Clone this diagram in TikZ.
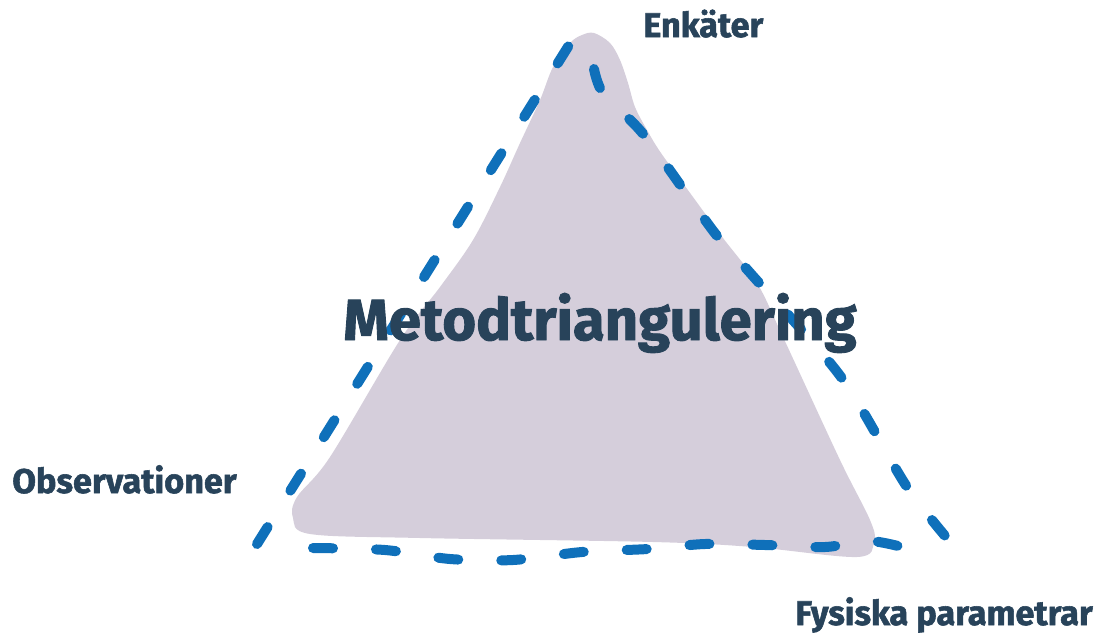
\documentclass[tikz,border=0pt]{standalone}
\usepackage{fontspec}
\setmainfont{Fira Sans}[BoldFeatures={FakeBold=1.6}]
\definecolor{lilac}{HTML}{D5CEDB}
\definecolor{dashblue}{HTML}{0F70BA}
\definecolor{navy}{HTML}{28435A}
\begin{document}
\begin{tikzpicture}[x=0.02cm,y=-0.02cm,
  edge/.style={dashblue, line width=0.2cm, line cap=round, dash pattern=on 0.4cm off 0.86cm},
  lbl/.style={navy, font=\fontsize{19.5}{22}\selectfont\bfseries, inner sep=0pt, anchor=base west},
  bigtitle/.style={navy, font=\fontsize{33}{40}\selectfont\bfseries, inner sep=0pt, anchor=base west}]
\path[use as bounding box] (0,0) rectangle (1094,632);
% the filled triangle
\fill[lilac] plot[smooth cycle, tension=0.55] coordinates {(594,33) (610,43) (620,60) (628,83) (635,107) (647,130) (661,153) (693,197) (723,238) (757,283) (783,337) (840,460) (870,520) (874,542) (857,557) (753,547) (653,542) (420,538) (310,534) (293,518) (297,497) (330,457) (400,340) (440,287) (473,240) (500,187) (520,143) (540,100) (553,67) (570,43) (582,35)};
% dashed outline
\draw[edge] (257,544) -- (576,34);
\draw[edge] plot[smooth] coordinates {(594,69) (604,95) (644,135) (714,232) (752,275) (841,377) (907,487) (957,550)};
\draw[edge] plot[smooth] coordinates {(313,548) (385,550) (450,559) (513,560) (582,552) (648,549) (705,544) (765,545) (825,547) (870,541) (910,549)};
% labels
\node[bigtitle] (met) at (343,340) {Metodtriangulering};
\node[lbl] (enk) at (643,37) {Enkäter};
\node[lbl] (obs) at (12,493) {Observationer};
\node[lbl] (fys) at (795,625) {Fysiska parametrar};
\end{tikzpicture}
\end{document}
